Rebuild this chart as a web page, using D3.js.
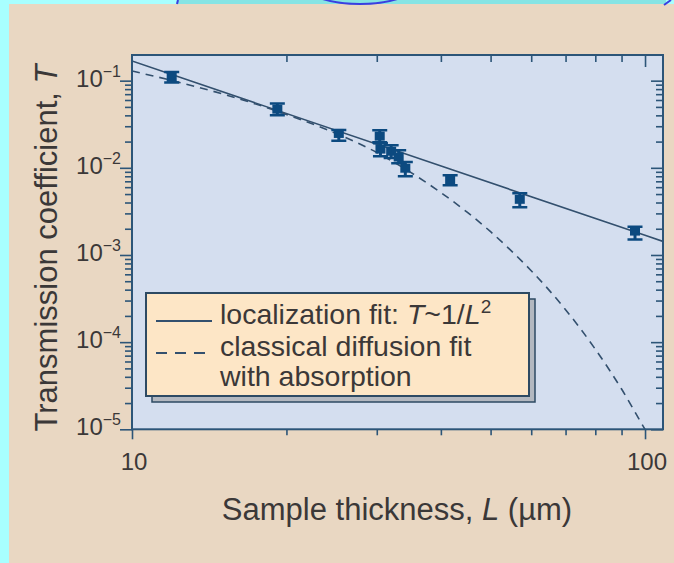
<!DOCTYPE html>
<html>
<head>
<meta charset="utf-8">
<script src="https://cdn.jsdelivr.net/npm/d3@7/dist/d3.min.js"></script>
<style>
  html, body { margin: 0; padding: 0; background: #a8ffff; }
  svg { display: block; }
  text { font-family: "Liberation Sans", Arial, Helvetica, sans-serif; fill: #3b3838; }
</style>
</head>
<body>
<svg id="chart" width="674" height="563"></svg>
<script>
// Measured transmission vs. sample thickness (L in µm)
const thickness   = [11.95, 19.2, 25.3, 30.4, 30.5, 32.0, 33.1, 34.1, 41.7, 57.0, 95.6];
const transmission = [0.109, 0.0471, 0.0248, 0.0231, 0.0164, 0.0155, 0.0133, 0.0099, 0.00723, 0.00435, 0.00188];
const errLow  = [0.0955, 0.0402, 0.0204, 0.0197, 0.0136, 0.0130, 0.0113, 0.0080, 0.00632, 0.00352, 0.00151];
const errHigh = [0.126, 0.0547, 0.0271, 0.0270, 0.0192, 0.0182, 0.0159, 0.0117, 0.00824, 0.0051, 0.00211];

// Localization fit, T ~ 1/L^2 (straight on log-log axes)
const locFitL = [10, 100, 108.4];
const locFitT = [0.168, 0.00168, 0.00143];

// Classical diffusion fit with absorption
const difFitL = [10, 12, 15, 20, 25, 30, 35, 40, 45, 50, 55, 60, 70, 80, 90, 100, 103];
const difFitT = [0.129, 0.100, 0.0705, 0.041, 0.0248, 0.0150, 0.0088, 0.0052, 0.0031, 0.00185,
                 0.00110, 0.00066, 0.000236, 0.000083, 0.000029, 0.0000100, 0.0000075];

// Axis ticks
const xMajor = [10, 100];
const xMinor = [20, 30, 40, 50, 60, 70, 80, 90];
const yExponents = [-1, -2, -3, -4, -5];
const yMinorMultipliers = [2, 3, 4, 5, 6, 7, 8, 9];

const legendItems = [
  { dash: null,  lines: [[{t: "localization fit: "}, {t: "T", i: true}, {t: "~1/"}, {t: "L", i: true}, {t: "2", sup: true}]] },
  { dash: "11,8", lines: [[{t: "classical diffusion fit"}], [{t: "with absorption"}]] }
];

const svg = d3.select("#chart");
const W = 674, H = 563;
const plot = { left: 132, right: 663, top: 55, bottom: 429.3 };
const axisColor = "#2c5578";
const markColor = "#0c4a80";
const lineColor = "#33506e";

// Backdrop
svg.append("rect").attr("width", W).attr("height", H).attr("fill", "#a8ffff");
svg.append("rect").attr("x", 178).attr("y", 0).attr("width", 488).attr("height", 6).attr("fill", "#86e4e4");
svg.append("rect").attr("x", 9).attr("y", 4).attr("width", W - 9).attr("height", H - 4).attr("fill", "#e9d7c2");
const deco = svg.append("g").attr("fill", "none").attr("stroke", "#3a3fe0").attr("stroke-width", 2);
deco.append("line").attr("x1", 178).attr("y1", 0).attr("x2", 177).attr("y2", 4);
deco.append("ellipse").attr("cx", 360).attr("cy", -14).attr("rx", 54).attr("ry", 18);
deco.append("line").attr("x1", 664).attr("y1", 5).attr("x2", 671).attr("y2", 0);

// Scales
const x = d3.scaleLog().domain([10, 108.4]).range([plot.left, plot.right]);
const y = d3.scaleLog().domain([1e-5, 0.197]).range([plot.bottom, plot.top]);

// Plot area
svg.append("rect")
  .attr("x", plot.left).attr("y", plot.top)
  .attr("width", plot.right - plot.left).attr("height", plot.bottom - plot.top)
  .attr("fill", "#d4deef");

svg.append("clipPath").attr("id", "plotClip").append("rect")
  .attr("x", plot.left).attr("y", plot.top)
  .attr("width", plot.right - plot.left).attr("height", plot.bottom - plot.top);

const inner = svg.append("g").attr("clip-path", "url(#plotClip)");

const line = d3.line().x(d => x(d[0])).y(d => y(d[1]));
const smooth = d3.line().x(d => x(d[0])).y(d => y(d[1])).curve(d3.curveMonotoneX);

inner.append("path")
  .attr("d", line(locFitL.map((l, i) => [l, locFitT[i]])))
  .attr("fill", "none").attr("stroke", lineColor).attr("stroke-width", 1.6);

inner.append("path")
  .attr("d", smooth(difFitL.map((l, i) => [l, difFitT[i]])))
  .attr("fill", "none").attr("stroke", lineColor).attr("stroke-width", 1.6)
  .attr("stroke-dasharray", "8,6");

// Data points with error bars
const pts = thickness.map((l, i) => ({ l, t: transmission[i], lo: errLow[i], hi: errHigh[i] }));
const pg = inner.append("g").selectAll("g").data(pts).join("g");
pg.append("line")
  .attr("x1", d => x(d.l)).attr("x2", d => x(d.l))
  .attr("y1", d => y(d.lo)).attr("y2", d => y(d.hi))
  .attr("stroke", markColor).attr("stroke-width", 3);
pg.selectAll("line.cap").data(d => [[d.l, d.lo], [d.l, d.hi]]).join("line")
  .attr("class", "cap")
  .attr("x1", d => x(d[0]) - 7.5).attr("x2", d => x(d[0]) + 7.5)
  .attr("y1", d => y(d[1])).attr("y2", d => y(d[1]))
  .attr("stroke", markColor).attr("stroke-width", 2.5);
pg.append("rect")
  .attr("x", d => x(d.l) - 5).attr("y", d => y(d.t) - 4.5)
  .attr("width", 10).attr("height", 9)
  .attr("fill", markColor);

// Axes
const yMajorVals = yExponents.map(e => Math.pow(10, e));
const yMinorVals = [];
yExponents.forEach(e => {
  if (e >= -1) return;
  yMinorMultipliers.forEach(m => yMinorVals.push(m * Math.pow(10, e)));
});

function styleAxis(g) {
  g.select(".domain").remove();
  g.selectAll(".tick line").attr("stroke", axisColor).attr("stroke-width", 1.6);
  g.selectAll(".tick text").remove();
}

svg.append("g").attr("transform", `translate(${plot.left},0)`)
  .call(d3.axisLeft(y).tickValues(yMinorVals).tickSize(7).tickFormat("")).call(styleAxis);
svg.append("g").attr("transform", `translate(${plot.left},0)`)
  .call(d3.axisLeft(y).tickValues(yMajorVals).tickSize(12).tickFormat("")).call(styleAxis);
svg.append("g").attr("transform", `translate(${plot.right},0)`)
  .call(d3.axisRight(y).tickValues(yMinorVals).tickSize(-7).tickFormat("")).call(styleAxis);
svg.append("g").attr("transform", `translate(${plot.right},0)`)
  .call(d3.axisRight(y).tickValues(yMajorVals).tickSize(-12).tickFormat("")).call(styleAxis);

svg.append("g").attr("transform", `translate(0,${plot.bottom})`)
  .call(d3.axisBottom(x).tickValues(xMinor).tickSize(6).tickFormat("")).call(styleAxis);
svg.append("g").attr("transform", `translate(0,${plot.bottom})`)
  .call(d3.axisBottom(x).tickValues(xMajor).tickSize(10).tickFormat("")).call(styleAxis);
svg.append("g").attr("transform", `translate(0,${plot.top})`)
  .call(d3.axisTop(x).tickValues(xMinor).tickSize(-7).tickFormat("")).call(styleAxis);
svg.append("g").attr("transform", `translate(0,${plot.top})`)
  .call(d3.axisTop(x).tickValues([100]).tickSize(-12).tickFormat("")).call(styleAxis);

// Frame
svg.append("rect")
  .attr("x", plot.left).attr("y", plot.top)
  .attr("width", plot.right - plot.left).attr("height", plot.bottom - plot.top)
  .attr("fill", "none").attr("stroke", axisColor).attr("stroke-width", 2);

// Tick labels
svg.append("g").selectAll("text").data(xMajor).join("text")
  .attr("x", d => x(d) + 2).attr("y", 470)
  .attr("text-anchor", "middle").attr("font-size", 24)
  .text(d => d);

const yl = svg.append("g").selectAll("text").data(yExponents).join("text")
  .attr("x", 121).attr("y", d => y(Math.pow(10, d)) + 6)
  .attr("text-anchor", "end").attr("font-size", 24);
yl.append("tspan").text("10");
yl.append("tspan").attr("font-size", 16).attr("dy", -10).text(d => "\u2212" + Math.abs(d));

// Axis titles
const xt = svg.append("text").attr("x", 397).attr("y", 520)
  .attr("text-anchor", "middle").attr("font-size", 31);
xt.append("tspan").text("Sample thickness, ");
xt.append("tspan").attr("font-style", "italic").text("L");
xt.append("tspan").text(" (\u00b5m)");

const yt = svg.append("text")
  .attr("transform", "translate(57,248) rotate(-90)")
  .attr("text-anchor", "middle").attr("font-size", 31);
yt.append("tspan").text("Transmission coefficient, ");
yt.append("tspan").attr("font-style", "italic").text("T");

// Legend
const lg = { x: 146, y: 293, w: 383, h: 103 };
svg.append("rect").attr("x", lg.x + 6).attr("y", lg.y + 6).attr("width", lg.w).attr("height", lg.h)
  .attr("fill", "#b3b8c0").attr("stroke", "#2d4a63").attr("stroke-width", 1.5);
svg.append("rect").attr("x", lg.x).attr("y", lg.y).attr("width", lg.w).attr("height", lg.h)
  .attr("fill", "#fde6c6").attr("stroke", "#2d4a63").attr("stroke-width", 2);

const rowBase = [324, 356];
const lineGap = 30;
legendItems.forEach((item, i) => {
  const by = rowBase[i];
  svg.append("line")
    .attr("x1", lg.x + 10).attr("x2", lg.x + 66)
    .attr("y1", by - 3).attr("y2", by - 3)
    .attr("stroke", lineColor).attr("stroke-width", 1.8)
    .attr("stroke-dasharray", item.dash);
  item.lines.forEach((parts, j) => {
    const t = svg.append("text").attr("x", lg.x + 74).attr("y", by + j * lineGap).attr("font-size", 28.5);
    parts.forEach(p => {
      const s = t.append("tspan").text(p.t);
      if (p.i) s.attr("font-style", "italic");
      if (p.sup) s.attr("font-size", 19).attr("dy", -11);
    });
  });
});
</script>
</body>
</html>
